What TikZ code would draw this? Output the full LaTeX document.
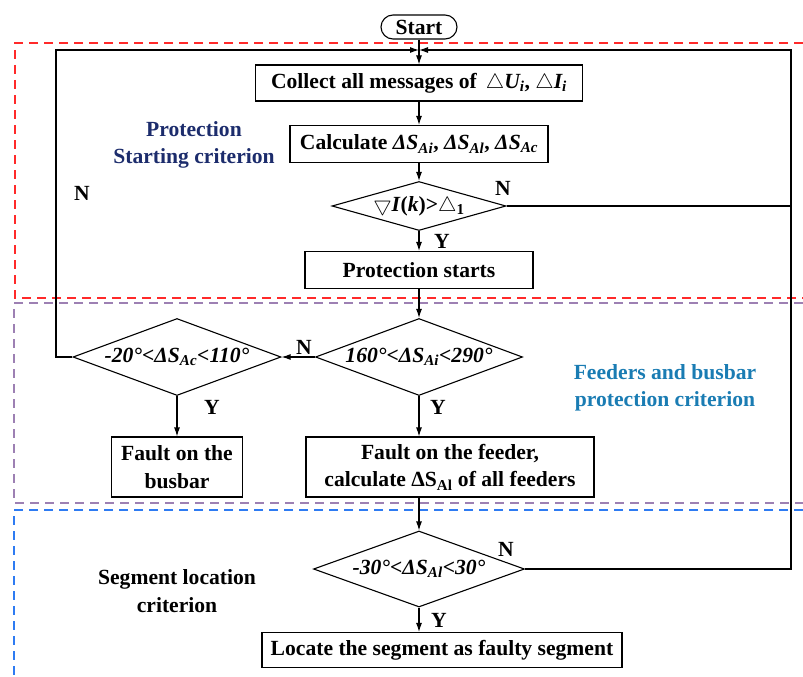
\documentclass[tikz,border=0pt]{standalone}
\usepackage{fontspec}
\setmainfont{Liberation Serif}
\usetikzlibrary{shapes.geometric,arrows.meta}

\definecolor{zoneRed}{HTML}{FF2A2A}
\definecolor{zonePurple}{HTML}{9D80B3}
\definecolor{zoneBlue}{HTML}{2E7BF2}
\definecolor{textNavy}{HTML}{1C2C6C}
\definecolor{textTeal}{HTML}{1A7CB3}

\newcommand{\flowfont}{\fontsize{21.6}{27.5}\selectfont\bfseries}
\newcommand{\dS}[1]{\textit{ΔS\textsubscript{#1}}}

\tikzset{
  proc/.style={draw, line width=1.1pt, fill=white, inner sep=2pt, font=\flowfont, align=center},
  decision/.style={diamond, draw, line width=1.1pt, fill=white, inner sep=0pt, font=\flowfont},
  zone/.style={line width=1.4pt, dash pattern=on 9pt off 6pt},
  flow/.style={line width=1.1pt},
  yn/.style={font=\flowfont},
  zonelabel/.style={font=\flowfont, align=center},
}

\begin{document}
\begin{tikzpicture}[x=1pt,y=-1pt,>={Latex[length=9pt,width=6pt]}]
    \useasboundingbox (0,0) rectangle (803,677);

    % Zones
    \draw[zone,zoneRed] (803,43) -- (15,43) -- (15,298) -- (803,298);
    \draw[zone,zonePurple] (803,303) -- (14,303) -- (14,503) -- (803,503);
    \draw[zone,zoneBlue] (803,510) -- (14,510) -- (14,677);

    % Zone labels
    \node[zonelabel, text=textNavy] (protlbl) at (194,145) {Protection\\Starting criterion};
    \node[zonelabel, text=textTeal] (feedlbl) at (665,388) {Feeders and busbar\\protection criterion};
    \node[zonelabel] (seglbl) at (177,591) {Segment location\\criterion};

    % Flow nodes
    \node[proc, rounded corners=12pt, minimum width=76, minimum height=24, inner sep=0pt] (start) at (419,27) {Start};
    \node[proc, minimum width=327, minimum height=36] (collect) at (419,83)
        {Collect all messages of \,$\triangle$\textit{U\textsubscript{i}}, $\triangle$\textit{I\textsubscript{i}}};
    \node[proc, minimum width=258, minimum height=37] (calc) at (419,144) {Calculate \dS{Ai}, \dS{Al}, \dS{Ac}};
    \node[decision, aspect=3.55, minimum width=174, minimum height=49] (trig) at (419,206)
        {$\bigtriangledown$\textit{I}(\textit{k})>$\triangle$\textsubscript{1}};
    \node[proc, minimum width=228, minimum height=37] (starts) at (419,270) {Protection starts};
    \node[decision, aspect=2.69, minimum width=207, minimum height=77] (feedchk) at (419,357) {\textit{160°<ΔS\textsubscript{Ai}<290°}};
    \node[decision, aspect=2.7, minimum width=208, minimum height=77] (buschk) at (177,357) {\textit{-20°<ΔS\textsubscript{Ac}<110°}};
    \node[proc, minimum width=131, minimum height=60] (busbar) at (177,467) {Fault on the\\busbar};
    \node[proc, minimum width=288, minimum height=60] (feeder) at (450,467)
        {Fault on the feeder,\\calculate ΔS\textsubscript{Al} of all feeders};
    \node[decision, aspect=2.78, minimum width=211, minimum height=76] (segchk) at (419,569) {\textit{-30°<ΔS\textsubscript{Al}<30°}};
    \node[proc, minimum width=360, minimum height=35] (locate) at (442,650) {Locate the segment as faulty segment};

    \coordinate (join) at (419,50);
    \coordinate (lrail) at (56,50);
    \coordinate (rail) at (791,50);

    % Main flow
    \draw[flow,->] (start) -- (collect);
    \draw[flow,->] (collect) -- (calc);
    \draw[flow,->] (calc) -- (trig);
    \draw[flow,->] (trig) -- (starts);
    \draw[flow,->] (starts) -- (feedchk);
    \draw[flow,->] (feedchk) -- (buschk);
    \draw[flow,->] (buschk) -- (busbar);
    \draw[flow,->] (feedchk.south) -- (feedchk.south |- feeder.north);
    \draw[flow,->] (feedchk.south |- feeder.south) -- (segchk.north);
    \draw[flow,->] (segchk.south) -- (segchk.south |- locate.north);

    % Feedback loops
    \draw[flow,->] (buschk.west) -- (buschk.west -| lrail) -- (lrail) -- (join);
    \draw[flow] (trig.east) -- (trig.east -| rail);
    \draw[flow,->] (segchk.east) -- (segchk.east -| rail) -- (rail) -- (join);

    % Y / N labels
    \node[yn] (n1) at (82,193) {N};
    \node[yn] (n2) at (503,188) {N};
    \node[yn] (y1) at (442,241) {Y};
    \node[yn] (n3) at (304,347) {N};
    \node[yn] (y2) at (212,407) {Y};
    \node[yn] (y3) at (438,407) {Y};
    \node[yn] (n4) at (506,549) {N};
    \node[yn] (y4) at (439,620) {Y};
\end{tikzpicture}
\end{document}
